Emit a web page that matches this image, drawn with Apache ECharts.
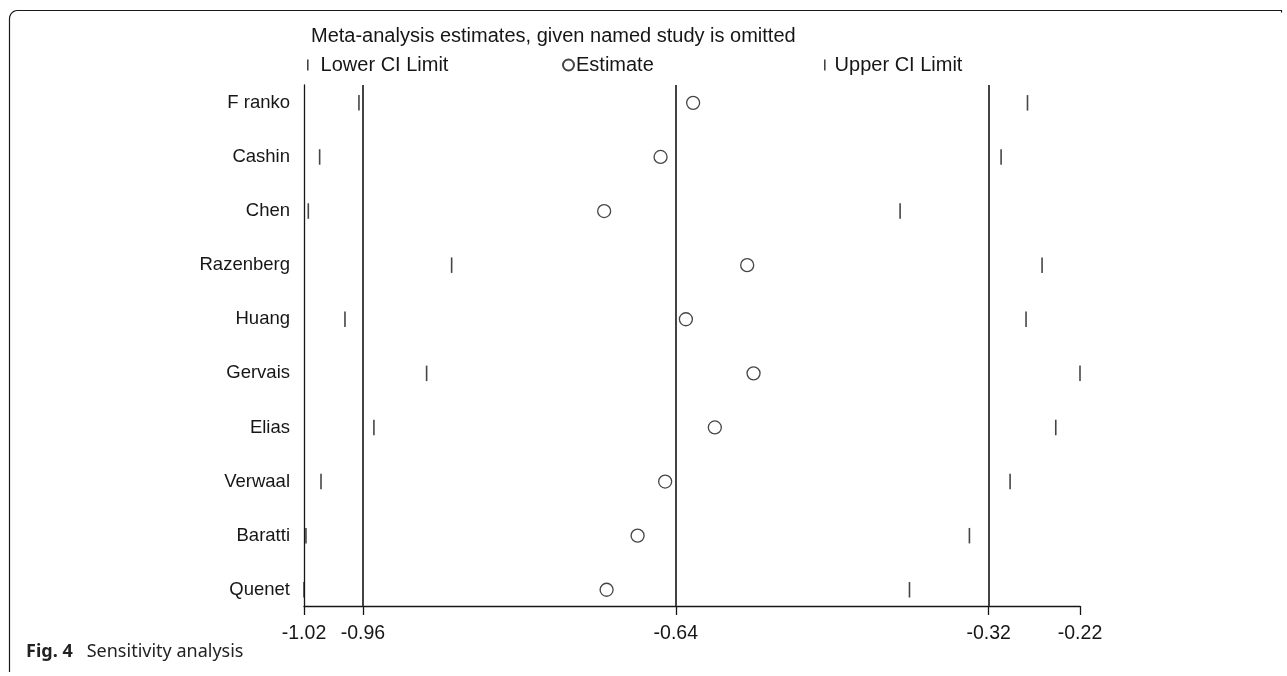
<!DOCTYPE html>
<html>
<head>
<meta charset="utf-8">
<script src="https://cdn.jsdelivr.net/npm/echarts@6/dist/echarts.min.js"></script>
<style>
html,body{margin:0;padding:0;background:#fff;}
#chart{width:1287px;height:676px;}
</style>
</head>
<body>
<div id="chart"></div>
<script>
// ---- data ----
const studies = ['F ranko','Cashin','Chen','Razenberg','Huang','Gervais','Elias','Verwaal','Baratti','Quenet'];
const lowerCI = [-0.9641,-1.0043,-1.0159,-0.8693,-0.9784,-0.8949,-0.9488,-1.0029,-1.0183,-1.0203];
const estimate = [-0.6223,-0.6556,-0.7133,-0.5670,-0.6297,-0.5605,-0.6001,-0.6509,-0.6791,-0.7108];
const upperCI = [-0.2803,-0.3073,-0.4106,-0.2654,-0.2818,-0.2266,-0.2514,-0.2981,-0.3397,-0.4010];
const overall = [-0.96,-0.64,-0.32];           // combined lower CI, estimate, upper CI
const xTickLabels = ['-1.02','-0.96','-0.64','-0.32','-0.22'];

const xMin = Math.min(...lowerCI);
const xMax = Math.max(...upperCI);
const xTickValues = [xMin, overall[0], overall[1], overall[2], xMax];
const rowIdx = studies.map((s,i)=>i+1);

const FONT = '"Liberation Sans", Arial, Helvetica, sans-serif';
const INK = '#161616';

function xFmt(v){
  let best = 0, bd = Infinity;
  xTickValues.forEach((t,i)=>{const d=Math.abs(t-v); if(d<bd){bd=d;best=i;}});
  return xTickLabels[best];
}

const chart = echarts.init(document.getElementById('chart'), null, {renderer:'canvas'});

// frame corner (decoration)
const framePts = [[9.5,672],[9.5,18.5]];
for(let k=1;k<=6;k++){
  const a = Math.PI + k*(Math.PI/2)/6;
  framePts.push([17.5+8*Math.cos(a), 18.5+8*Math.sin(a)]);
}
framePts.push([1281.5,10.5],[1281.5,12.5]);

chart.setOption({
  animation:false,
  backgroundColor:'#fff',
  title:{
    text:'Meta-analysis estimates, given named study is omitted',
    left:311, top:26, padding:0,
    textStyle:{fontFamily:FONT,fontSize:20,fontWeight:'normal',color:INK}
  },
  legend:[
    {data:[{name:'Lower CI Limit',icon:'rect'}],left:307,top:55,padding:0,itemWidth:1.6,itemHeight:11,
     textStyle:{fontFamily:FONT,fontSize:20,color:INK,padding:[0,0,0,7]},selectedMode:false},
    {data:[{name:'Estimate',icon:'circle'}],left:562,top:55,padding:0,itemWidth:11,itemHeight:11,
     textStyle:{fontFamily:FONT,fontSize:20,color:INK,padding:[0,0,0,-3]},selectedMode:false},
    {data:[{name:'Upper CI Limit',icon:'rect'}],left:824,top:55,padding:0,itemWidth:1.6,itemHeight:11,
     textStyle:{fontFamily:FONT,fontSize:20,color:INK,padding:[0,0,0,4]},selectedMode:false}
  ],
  grid:{left:304,right:1287-1080,top:85,bottom:676-606,containLabel:false},
  xAxis:{
    type:'value', min:xMin, max:xMax,
    axisLine:{show:true,onZero:false,lineStyle:{color:INK,width:1.3}},
    axisTick:{show:true,length:9,customValues:xTickValues,lineStyle:{color:INK,width:1.3}},
    axisLabel:{customValues:xTickValues,formatter:xFmt,margin:18,
      fontFamily:FONT,fontSize:19.5,color:INK,showMinLabel:true,showMaxLabel:true,hideOverlap:false},
    splitLine:{show:false}
  },
  yAxis:{
    type:'value', inverse:true, min:0.67, max:10.3,
    axisLine:{show:true,onZero:false,lineStyle:{color:INK,width:1.3}},
    axisTick:{show:false},
    axisLabel:{customValues:rowIdx,formatter:v=>studies[Math.round(v)-1]||'',margin:14,
      fontFamily:FONT,fontSize:18.5,color:INK,showMinLabel:true,showMaxLabel:true},
    splitLine:{show:false}
  },
  series:[
    {
      name:'Lower CI Limit', type:'scatter', symbol:'rect', symbolSize:[1.6,15.5],
      itemStyle:{color:INK},
      data:lowerCI.map((v,i)=>[v,i+1]), z:3
    },
    {
      name:'Estimate', type:'scatter', symbol:'circle', symbolSize:13,
      itemStyle:{color:'#fff',borderColor:INK,borderWidth:1.3},
      data:estimate.map((v,i)=>[v,i+1]), z:4,
      markLine:{
        silent:true, symbol:'none', label:{show:false},
        lineStyle:{color:'#3a3a3a',width:1.9,type:'solid'},
        data:overall.map(v=>({xAxis:v}))
      }
    },
    {
      name:'Upper CI Limit', type:'scatter', symbol:'rect', symbolSize:[1.6,15.5],
      itemStyle:{color:INK},
      data:upperCI.map((v,i)=>[v,i+1]), z:3
    }
  ],
  graphic:[
    {type:'polyline',shape:{points:framePts},style:{stroke:'#1a1a1a',lineWidth:1.2,fill:null},silent:true},
    {type:'text',left:26,top:643,silent:true,
     style:{text:'{b|Fig. 4}   Sensitivity analysis',
       rich:{b:{fontFamily:'"Noto Sans", "Open Sans", sans-serif',fontWeight:'bold',fontSize:18,fill:'#222'}},
       fontFamily:'"Noto Sans", "Open Sans", sans-serif',fontSize:18,fill:'#222'}}
  ]
});
</script>
</body>
</html>
